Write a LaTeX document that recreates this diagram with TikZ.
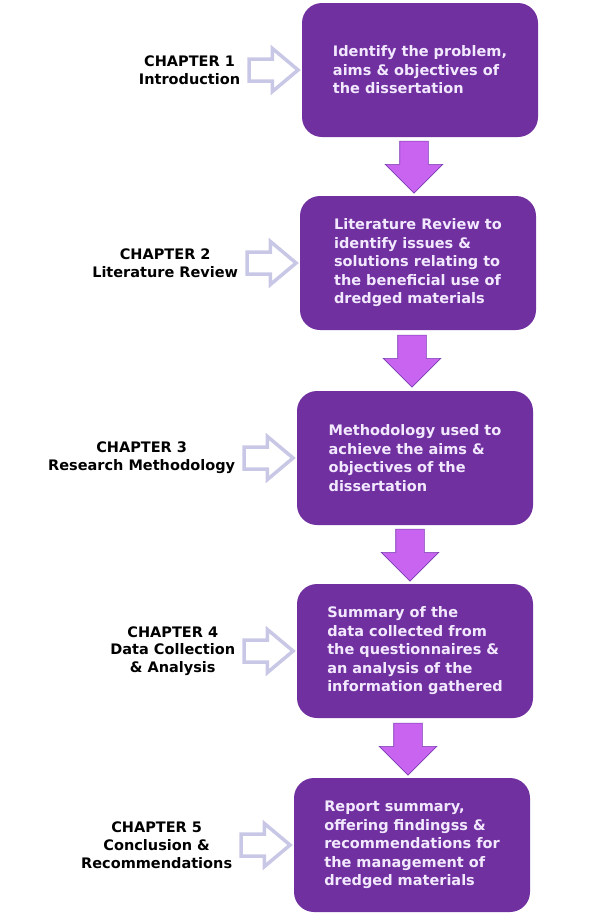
\documentclass[tikz,border=0pt]{standalone}
\usepackage{fontspec}
\setmainfont{DejaVu Sans}
\usetikzlibrary{shapes.arrows,positioning}
\definecolor{boxpurple}{HTML}{7030A0}
\definecolor{boxtext}{HTML}{F3E9FF}
\definecolor{flowpink}{HTML}{C864F0}
\definecolor{flowedge}{HTML}{7A3CB0}
\definecolor{sidegrey}{HTML}{C9C7E6}

\begin{document}
\begin{tikzpicture}[x=1pt,y=-1pt,
		stage/.style={fill=boxpurple, rounded corners=20pt, minimum width=236pt,
			minimum height=134pt, align=left, text=boxtext, inner sep=0pt,
			font=\fontsize{14.5}{18.5}\selectfont\bfseries},
		flowarrow/.style={single arrow, shape border rotate=270, draw=flowedge,
			fill=flowpink, line width=0.6pt, minimum height=52pt, minimum width=57pt,
			single arrow head extend=14.5pt, inner xsep=14pt, inner ysep=0pt},
		sidearrow/.style={single arrow, draw=sidegrey, line width=3.5pt, fill=white,
			minimum height=49pt, minimum width=39.5pt, single arrow head extend=10.5pt,
			single arrow tip angle=80, inner xsep=0pt, inner ysep=9.25pt},
		chapter/.style={align=center, inner sep=0pt,
			font=\fontsize{14.5}{17.8}\selectfont\bfseries}]
		\useasboundingbox (0,0) rectangle (605,921);

		% chapter boxes
		\node[stage] (b1) at (420,70) {Identify the problem,\\aims \& objectives of\\the dissertation};
		\node[stage] (b2) at (418,263) {Literature Review to\\identify issues \&\\solutions relating to\\the beneficial use of\\dredged materials};
		\node[stage] (b3) at (415,458) {Methodology used to\\achieve the aims \&\\objectives of the\\dissertation};
		\node[stage] (b4) at (415,651) {Summary of the\\data collected from\\the questionnaires \&\\an analysis of the\\information gathered};
		\node[stage] (b5) at (412,845) {Report summary,\\offering findingss \&\\recommendations for\\the management of\\dredged materials};

		% arrows between the boxes
		\node[flowarrow] (d1) at (414,160) {};
		\node[flowarrow] (d2) at (412,354) {};
		\node[flowarrow] (d3) at (410,548) {};
		\node[flowarrow] (d4) at (408,742) {};

		% side arrows and chapter names
		\node[sidearrow, left=1pt of b1] (s1) {};
		\node[sidearrow, left=1pt of b2] (s2) {};
		\node[sidearrow, left=1pt of b3] (s3) {};
		\node[sidearrow, left=1pt of b4] (s4) {};
		\node[sidearrow, left=1pt of b5] (s5) {};

		\node[chapter, left=7pt of s1] (c1) {CHAPTER 1\\Introduction};
		\node[chapter, left=7pt of s2] (c2) {CHAPTER 2\\Literature Review};
		\node[chapter, left=7pt of s3] (c3) {CHAPTER 3\\Research Methodology};
		\node[chapter, left=7pt of s4] (c4) {CHAPTER 4\\Data Collection\\\& Analysis};
		\node[chapter, left=7pt of s5] (c5) {CHAPTER 5\\Conclusion \&\\Recommendations};

	\end{tikzpicture}
\end{document}
